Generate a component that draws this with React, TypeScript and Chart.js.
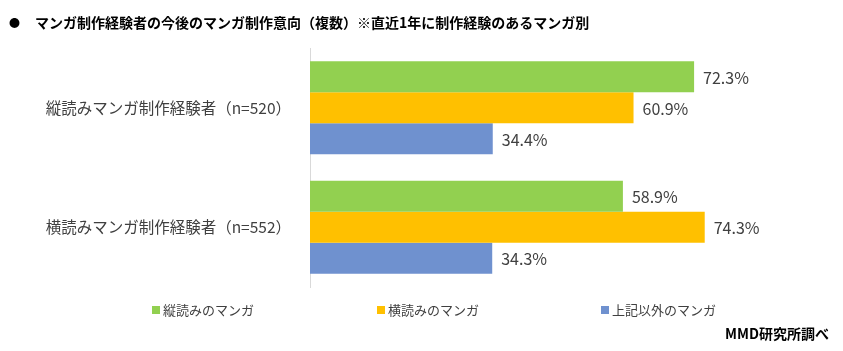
import React, { useEffect, useRef } from "react";
import { Chart, registerables } from "chart.js";

Chart.register(...registerables);

const categories = ["縦読みマンガ制作経験者（n=520）", "横読みマンガ制作経験者（n=552）"];
const seriesNames = ["縦読みのマンガ", "横読みのマンガ", "上記以外のマンガ"];
const verticalManga = [72.3, 58.9];
const horizontalManga = [60.9, 74.3];
const otherManga = [34.4, 34.3];
const seriesColors = ["#92D050", "#FFC000", "#6F91CF"];

const titleText = "マンガ制作経験者の今後のマンガ制作意向（複数）※直近1年に制作経験のあるマンガ別";
const sourceText = "MMD研究所調べ";

const FONT = '"Noto Sans CJK JP", "Noto Sans", sans-serif';
const TEXT_COLOR = "#404040";

const decorPlugin = {
  id: "decor",
  afterDatasetsDraw(chart: any) {
    const ctx = chart.ctx;
    ctx.save();
    // value labels
    ctx.font = `16px ${FONT}`;
    ctx.fillStyle = TEXT_COLOR;
    ctx.textAlign = "left";
    ctx.textBaseline = "middle";
    chart.data.datasets.forEach((ds: any, di: number) => {
      const meta = chart.getDatasetMeta(di);
      meta.data.forEach((bar: any, i: number) => {
        const v = ds.data[i];
        ctx.fillText(v.toFixed(1) + "%", bar.x + 9, bar.y + 1);
      });
    });
    // title
    ctx.fillStyle = "#000000";
    ctx.font = `11px ${FONT}`;
    ctx.fillText("●", 9, 23);
    ctx.font = `bold 14px ${FONT}`;
    ctx.fillText(titleText, 35, 23);
    // legend
    const legendX = [152, 377, 601];
    ctx.font = `13px ${FONT}`;
    chart.data.datasets.forEach((ds: any, di: number) => {
      const x = legendX[di];
      ctx.fillStyle = ds.backgroundColor;
      ctx.fillRect(x, 306, 8, 8);
      ctx.fillStyle = TEXT_COLOR;
      ctx.fillText(ds.label, x + 11, 310);
    });
    // source
    ctx.fillStyle = "#000000";
    ctx.font = `bold 14px ${FONT}`;
    ctx.textAlign = "right";
    ctx.fillText(sourceText, 829, 334);
    ctx.restore();
  },
};

export default function App() {
  const canvasRef = useRef<HTMLCanvasElement | null>(null);

  useEffect(() => {
    if (!canvasRef.current) return;
    const chart = new Chart(canvasRef.current, {
      type: "bar",
      data: {
        labels: categories,
        datasets: [
          { label: seriesNames[0], data: verticalManga, backgroundColor: seriesColors[0] },
          { label: seriesNames[1], data: horizontalManga, backgroundColor: seriesColors[1] },
          { label: seriesNames[2], data: otherManga, backgroundColor: seriesColors[2] },
        ],
      },
      options: {
        indexAxis: "y",
        animation: false,
        responsive: true,
        maintainAspectRatio: false,
        layout: { padding: { top: 48, bottom: 64, left: 0, right: 108 } },
        datasets: {
          bar: { categoryPercentage: 0.78, barPercentage: 1.0 },
        },
        plugins: {
          legend: { display: false },
          title: { display: false },
          tooltip: { enabled: false },
        },
        scales: {
          x: { display: false, min: 0, max: 80 },
          y: {
            grid: { display: false, drawTicks: false },
            border: { display: true, color: "#D9D9D9", width: 1 },
            ticks: {
              padding: 19,
              color: TEXT_COLOR,
              font: { family: FONT, size: 15.5 },
            },
            afterFit: (scale: any) => {
              scale.width = 310;
            },
          },
        },
      },
      plugins: [decorPlugin],
    } as any);
    return () => chart.destroy();
  }, []);

  return (
    <div style={{ position: "fixed", left: 0, top: 0, width: 843, height: 351, background: "#fff" }}>
      <canvas ref={canvasRef} />
    </div>
  );
}
